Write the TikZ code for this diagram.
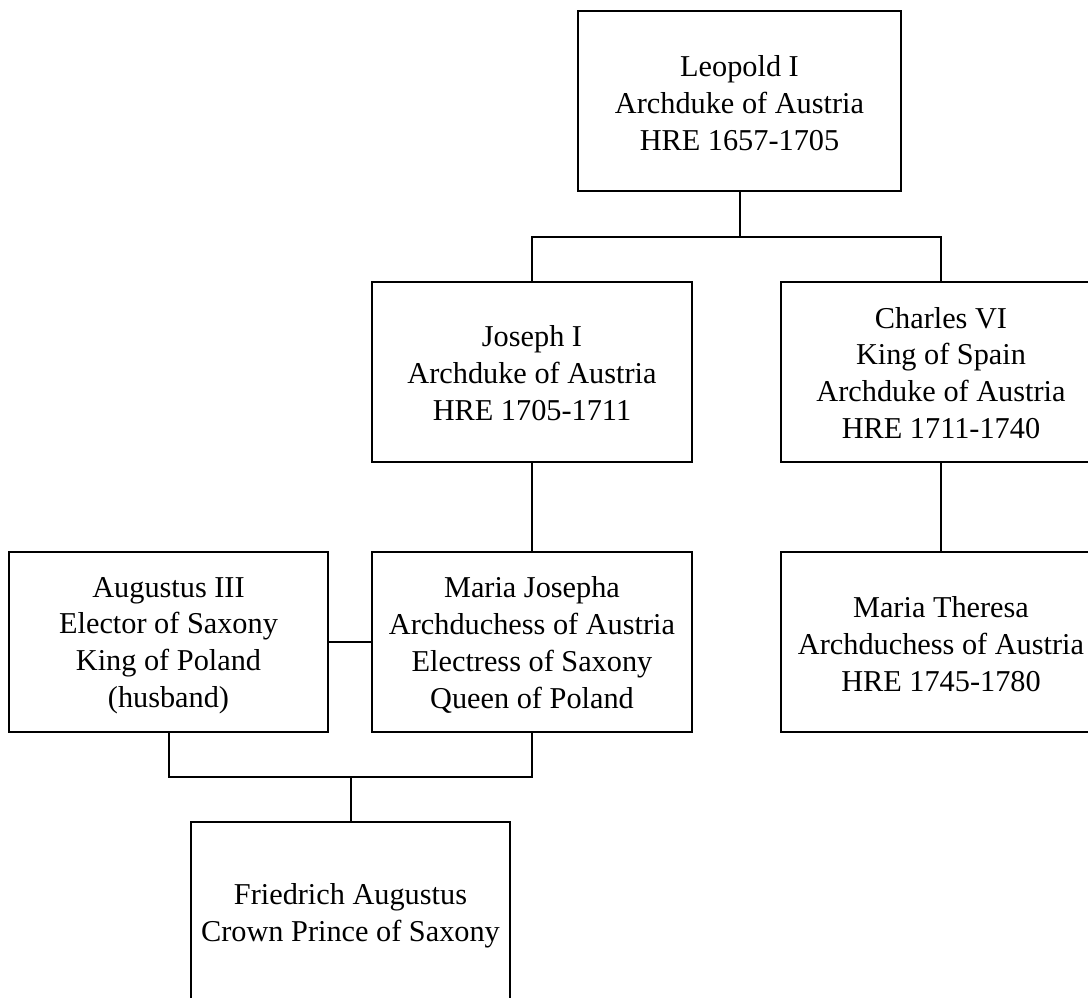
\documentclass[tikz,border=0pt]{standalone}
\usepackage{fontspec}
\setmainfont{Liberation Serif}
\begin{document}
\begin{tikzpicture}[x=1pt,y=-1pt,
  person/.style={draw=black, line width=2pt, minimum width=320pt, minimum height=180pt, inner sep=0pt},
  txt/.style={align=center, inner sep=0pt, font=\fontsize{30.3}{36.8}\selectfont},
  link/.style={draw=black, line width=2pt}]
\useasboundingbox (0,0) rectangle (1088,998);
\node[person, minimum width=323pt] (leo) at (739.5,101) {};
\node[person] (jos) at (532,372) {};
\node[person] (cha) at (941,372) {};
\node[person, minimum width=319pt] (aug) at (168.5,642) {};
\node[person] (mj) at (532,642) {};
\node[person] (mt) at (941,642) {};
\node[person, minimum width=319pt] (fri) at (350.5,912) {};
\node[txt] (leot) at ([yshift=-2pt]leo.center) {Leopold I\\Archduke of Austria\\HRE 1657-1705};
\node[txt] (jost) at ([yshift=-1pt]jos.center) {Joseph I\\Archduke of Austria\\HRE 1705-1711};
\node[txt] (chat) at ([yshift=-1pt]cha.center) {Charles VI\\King of Spain\\Archduke of Austria\\HRE 1711-1740};
\node[txt] (augt) at ([yshift=-3.5pt]aug.center) {Augustus III\\Elector of Saxony\\King of Poland\\(husband)};
\node[txt] (mjt) at ([yshift=-3pt]mj.center) {Maria Josepha\\Archduchess of Austria\\Electress of Saxony\\Queen of Poland};
\node[txt] (mtt) at ([yshift=-2pt]mt.center) {Maria Theresa\\Archduchess of Austria\\HRE 1745-1780};
\node[txt] (frit) at ([yshift=-3.5pt]fri.center) {Friedrich Augustus\\Crown Prince of Saxony};
\coordinate (top) at (739.5,237);
\coordinate (fam) at (350.5,777);
\draw[link] (leo.south) -- (top);
\draw[link] (jos.north) |- (top) -| (cha.north);
\draw[link] (jos.south) -- (mj.north);
\draw[link] (cha.south) -- (mt.north);
\draw[link] (aug.east) -- (mj.west);
\draw[link] (aug.south) |- (fam) -| (mj.south);
\draw[link] (fam) -- (fri.north);
\end{tikzpicture}
\end{document}
